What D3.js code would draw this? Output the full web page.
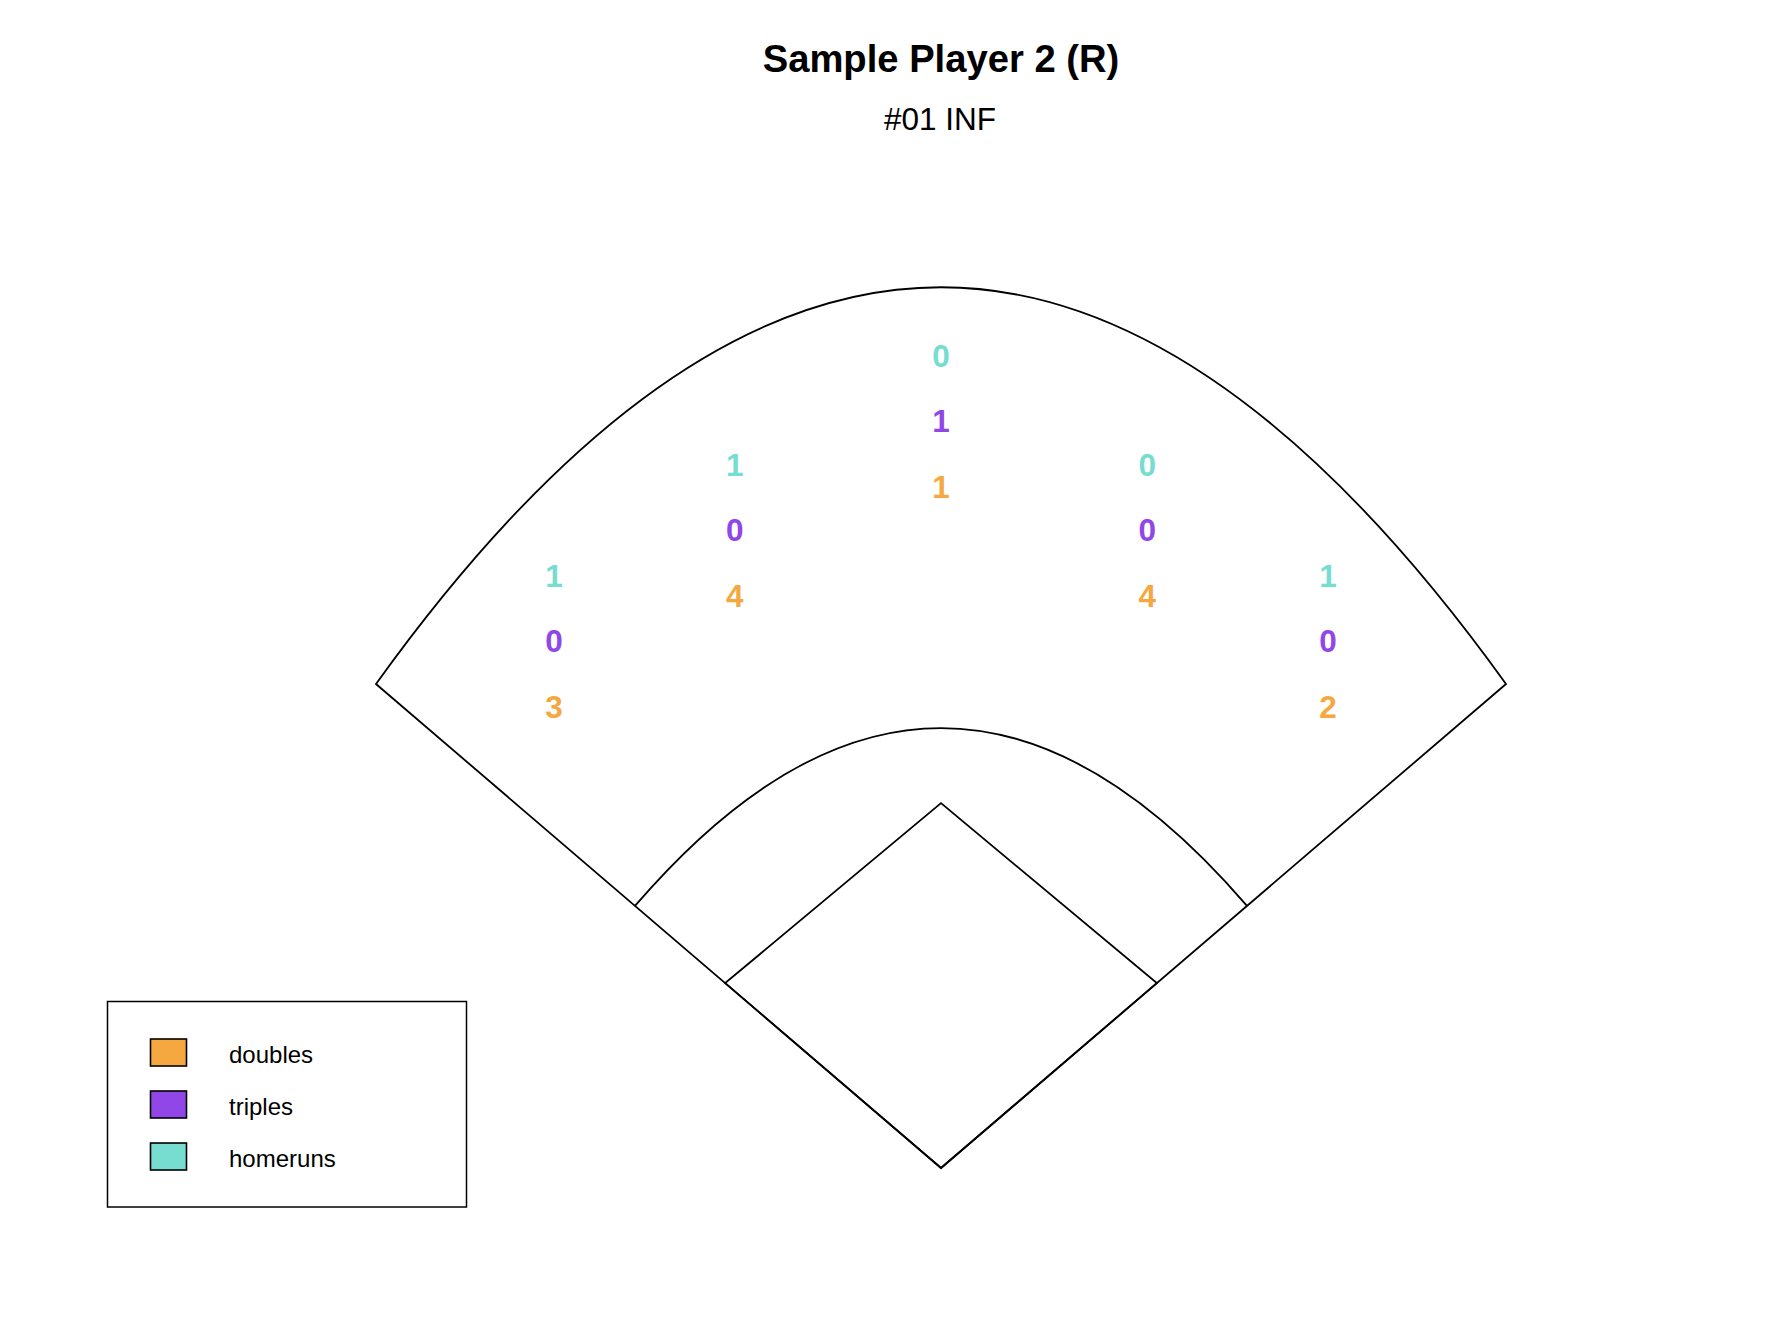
<!DOCTYPE html>
<html>
<head>
<meta charset="utf-8">
<script src="https://cdn.jsdelivr.net/npm/d3@7"></script>
<style>
  html, body { margin: 0; padding: 0; background: #ffffff; }
  svg { display: block; font-family: "Liberation Sans", Arial, Helvetica, sans-serif; }
</style>
</head>
<body>
<svg id="chart" width="1770" height="1336"></svg>
<script>
// ---- data ----
const titleText = "Sample Player 2 (R)";
const subtitleText = "#01 INF";
const zones = ["LF", "LCF", "CF", "RCF", "RF"];
const doubles = [3, 4, 1, 4, 2];
const triples = [0, 0, 1, 0, 0];
const homeruns = [1, 1, 0, 0, 1];
const seriesNames = ["doubles", "triples", "homeruns"];
const seriesColors = ["#F5A83F", "#9146E8", "#76DDD0"];

// ---- layout ----
const W = 1770, H = 1336;
const svg = d3.select("#chart");

// field coordinates: home plate at (0,0), foul poles at (-1,1) and (1,1)
const x = d3.scaleLinear().domain([-1, 1]).range([376, 1506]);
const y = d3.scaleLinear().domain([0, 1]).range([1168, 684]);

// zone label anchors in field units (x, y of lowest row)
const zoneX = d3.scaleOrdinal().domain(zones).range([-0.685, -0.365, 0, 0.365, 0.685]);
const zoneY = d3.scaleOrdinal().domain(zones).range([0.953, 1.183, 1.408, 1.183, 0.953]);
const rowStep = 0.1355;

const lineStyle = s => s.attr("fill", "none").attr("stroke", "#000").attr("stroke-width", 1.8);

// outer wall + foul lines
const outer = d3.path();
outer.moveTo(x(0), y(0));
outer.lineTo(x(-1), y(1));
outer.bezierCurveTo(x(-0.327), y(2.093), x(0.327), y(2.093), x(1), y(1));
outer.closePath();
svg.append("path").attr("d", outer.toString()).call(lineStyle).attr("stroke-linejoin", "miter");

// infield arc
const inner = d3.path();
inner.moveTo(x(-0.542), y(0.541));
inner.quadraticCurveTo(x(0), y(1.277), x(0.542), y(0.541));
svg.append("path").attr("d", inner.toString()).call(lineStyle);

// diamond
const diamond = d3.line().x(d => x(d[0])).y(d => y(d[1]));
svg.append("path")
  .attr("d", diamond([[0, 0], [-0.382, 0.382], [0, 0.754], [0.382, 0.382]]) + "Z")
  .call(lineStyle);

// zone counts
const series = [doubles, triples, homeruns];
series.forEach((vals, si) => {
  svg.append("g").selectAll("text")
    .data(zones.map((z, i) => ({ z, v: vals[i] })))
    .join("text")
    .attr("x", d => x(zoneX(d.z)))
    .attr("y", d => y(zoneY(d.z) + si * rowStep))
    .attr("dy", "0.358em")
    .attr("text-anchor", "middle")
    .attr("font-size", 31.5)
    .attr("font-weight", "bold")
    .attr("fill", seriesColors[si])
    .text(d => d.v);
});

// title
svg.append("text").attr("x", 941).attr("y", 72).attr("text-anchor", "middle")
  .attr("font-size", 38.2).attr("font-weight", "bold").attr("fill", "#000").text(titleText);
svg.append("text").attr("x", 940).attr("y", 130).attr("text-anchor", "middle")
  .attr("font-size", 31.5).attr("fill", "#000").text(subtitleText);

// legend
const lg = svg.append("g");
lg.append("rect").attr("x", 107.5).attr("y", 1001.5).attr("width", 359).attr("height", 205.5)
  .attr("fill", "#fff").attr("stroke", "#000").attr("stroke-width", 1.5);
const ly = d3.scalePoint().domain(seriesNames).range([1052.5, 1156.5]);
const items = lg.selectAll("g.item").data(seriesNames).join("g").attr("class", "item");
items.append("rect")
  .attr("x", 150.5).attr("y", d => ly(d) - 13.5).attr("width", 36).attr("height", 27)
  .attr("fill", (d, i) => seriesColors[i]).attr("stroke", "#000").attr("stroke-width", 1.6);
items.append("text")
  .attr("x", 229).attr("y", d => ly(d) + 2).attr("dy", "0.35em")
  .attr("font-size", 24).attr("fill", "#000").text(d => d);
</script>
</body>
</html>
